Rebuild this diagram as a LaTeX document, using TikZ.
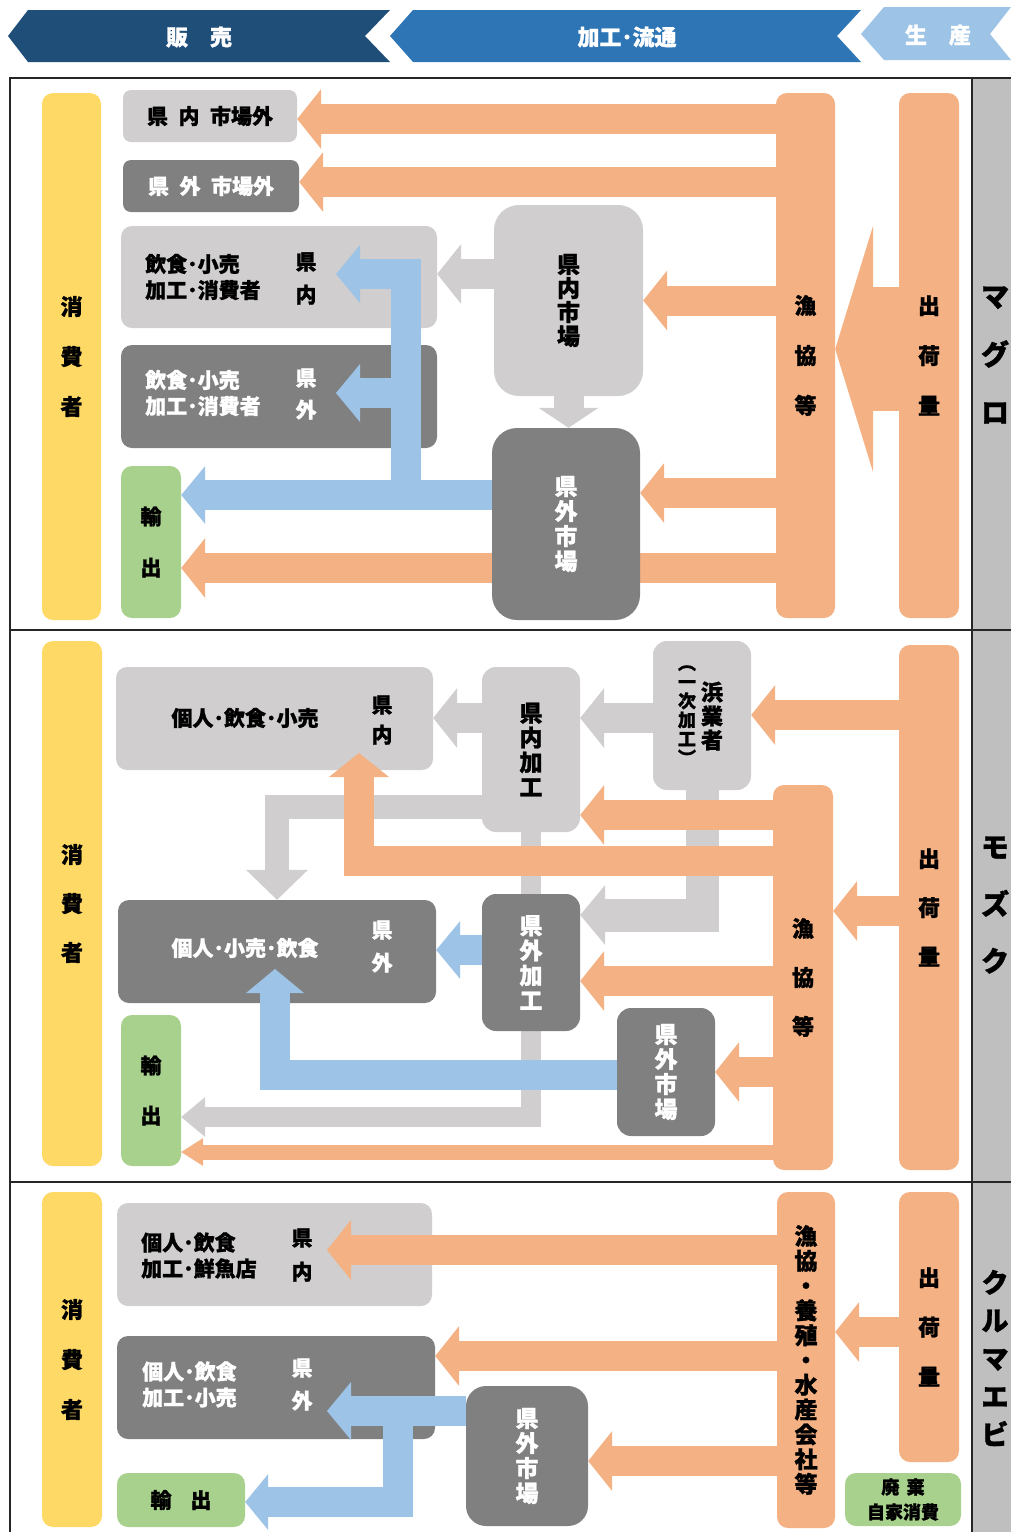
\documentclass[tikz,border=0pt]{standalone}
\usepackage{fontspec}
\setmainfont{Noto Sans CJK JP}[BoldFeatures={FakeBold=1.2}]
\usetikzlibrary{arrows.meta,calc}

\definecolor{navyC}{HTML}{1F4E79}
\definecolor{midC}{HTML}{2E75B6}
\definecolor{skyC}{HTML}{9DC3E6}
\definecolor{orangeC}{HTML}{F4B183}
\definecolor{lgrayC}{HTML}{D0CECE}
\definecolor{dgrayC}{HTML}{808080}
\definecolor{yellowC}{HTML}{FFD966}
\definecolor{greenC}{HTML}{A9D18E}
\definecolor{sideC}{HTML}{BFBFBF}

\pgfdeclarelayer{back}
\pgfsetlayers{back,main}

\begin{document}
\begin{tikzpicture}[x=1pt,y=-1pt]
\tikzset{
	box/.style={inner sep=0pt, rounded corners=11pt, align=center},
	lbox/.style={box, fill=lgrayC},
	dbox/.style={box, fill=dgrayC, text=white},
	ybox/.style={box, fill=yellowC},
	gbox/.style={box, fill=greenC},
	obox/.style={box, fill=orangeC},
	wh/.style 2 args={minimum width=#1pt, minimum height=#2pt},
	vtext/.style 2 args={font=\fontsize{#1}{#2}\selectfont\bfseries, align=center, inner sep=0pt},
	txt/.style={font=\fontsize{21}{26}\selectfont\bfseries, align=left, inner sep=0pt},
	head/.style={font=\fontsize{22}{26}\selectfont\bfseries, text=white, inner sep=0pt},
}

\tikzset{
	fat/.style n args={4}{draw=#1, line width=#2pt,
		-{Triangle[length=#3pt, width=#4pt, line width=0pt]}},
	ora/.style={fat={orangeC}{30}{24}{60}},
	gry/.style={fat={lgrayC}{30}{24}{60}},
	blu/.style={fat={skyC}{30}{24}{58}},
}

\useasboundingbox (0,0) rectangle (1011,1532);

% header
\fill[navyC] (8,36) -- (28,10) -- (390,10) -- (365,36) -- (390,62) -- (28,62) -- cycle;
\fill[midC] (390,36) -- (413,10) -- (861,10) -- (837,36) -- (861,62) -- (413,62) -- cycle;
\fill[skyC] (861,34) -- (884,7) -- (1011,7) -- (990,34) -- (1011,60) -- (884,60) -- cycle;
\node[head] (sale) at (199,37) {販\hspace{1em}売};
\node[head] (dist) at (627,37) {加工･流通};
\node[head] (prod) at (938,35) {生\hspace{1em}産};

% frame
\fill[sideC] (972,78) rectangle (1011,1532);
\draw[line width=1.5pt, black!85] (10,1532) -- (10,78) -- (1011,78);
\draw[line width=1.5pt, black!85] (10,630) -- (1011,630) (10,1182) -- (1011,1182) (972,78) -- (972,1532);

\node[vtext={28}{58}] (tuna) at (995,355) {マ\\グ\\ロ};
\node[vtext={28}{57}] (mozuku) at (995,905) {モ\\ズ\\ク};
\node[vtext={27}{38}] (prawn) at (995,1358) {ク\\ル\\マ\\エ\\ビ};

%%% maguro
\node[ybox, wh={59}{527}, vtext={22}{50}] (cons1) at (71.5,356.5) {消\\費\\者};
\node[lbox, wh={174}{52}, rounded corners=8pt, txt] (outin1) at (210,116) {県\hspace{.5em}内\hspace{.5em}市場外};
\node[dbox, wh={176}{52}, rounded corners=8pt, txt] (outout1) at (211,186) {県\hspace{.5em}外\hspace{.5em}市場外};
\node[lbox, wh={316}{102}] (inbox1) at (279,277) {};
\node[dbox, wh={316}{103}] (exbox1) at (279,396.5) {};
\node[gbox, wh={60}{152}, vtext={21}{51}] (exp1) at (151,542) {輸\\出};
\node[lbox, wh={149}{191}, rounded corners=25pt, vtext={23}{24}] (mktin1) at (568.5,300.5) {県\\内\\市\\場};
\node[obox, wh={59}{525}, vtext={22}{50}] (coop1) at (805.5,355.5) {漁\\協\\等};
\node[obox, wh={60}{525}, vtext={22}{50}] (ship1) at (929,355.5) {出\\荷\\量};
\node[dbox, wh={148}{192}, rounded corners=25pt, vtext={23}{25}] (mktout1) at (566,524) {県\\外\\市\\場};

\node[txt, anchor=west] (inlab1) at (145,277) {飲食･小売\\加工･消費者};
\node[vtext={21}{33}] (inpref1) at (306,278.5) {県\\内};
\node[txt, anchor=west, text=white] (exlab1) at (145,393) {飲食･小売\\加工･消費者};
\node[vtext={21}{32}, text=white] (expref1) at (306,394) {県\\外};

% links
\begin{pgfonlayer}{back}
\draw[ora] (coop1.west |- 0,568) -- (exp1.east |- 0,568);
\end{pgfonlayer}
\draw[ora] (coop1.west |- 0,119) -- (outin1.east |- 0,119);
\draw[ora] (coop1.west |- 0,182) -- (outout1.east |- 0,182);
\draw[ora] (coop1.west |- mktin1.east) -- (mktin1.east);
\draw[ora] (coop1.west |- 0,493) -- (mktout1.east |- 0,493);
\draw[fat={orangeC}{124}{38}{247}] (ship1.west |- 0,349) -- (coop1.east |- 0,349);
\draw[gry] (mktin1.west |- 0,274) -- (inbox1.east |- 0,274);
\draw[fat={lgrayC}{30}{20}{60}] (mktin1.south) -- (mktin1.south |- mktout1.north);

\coordinate (split1) at (406,495);
\coordinate (tipin1) at (336,274);
\coordinate (tipex1) at (336,393);
\draw[blu] (mktout1.west |- split1) -- (exp1.east |- split1);
\draw[blu] (split1) |- (tipin1);
\draw[blu] (split1 |- tipex1) -- (tipex1);

%%% mozuku
\node[ybox, wh={60}{525}, vtext={22}{49}] (cons2) at (72,903.5) {消\\費\\者};
\node[lbox, wh={317}{103}] (inbox2) at (274.5,718.5) {};
\node[lbox, wh={98}{165}, rounded corners=14pt, vtext={23}{24.7}] (procin2) at (531,749.5) {県\\内\\加\\工};
\node[lbox, wh={98}{149}, rounded corners=14pt] (hama2) at (702,715.5) {};
\node[obox, wh={60}{525}, vtext={22}{49}] (ship2) at (929,907.5) {出\\荷\\量};
\node[obox, wh={60}{385}, vtext={22}{49}] (coop2) at (803,977.5) {漁\\協\\等};
\node[dbox, wh={318}{103}] (exbox2) at (277,951.5) {};
\node[dbox, wh={98}{137}, rounded corners=14pt, vtext={23}{25}] (procout2) at (531,962.5) {県\\外\\加\\工};
\node[dbox, wh={98}{128}, rounded corners=14pt, vtext={23}{25}] (mktout2) at (666,1072) {県\\外\\市\\場};
\node[gbox, wh={60}{151}, vtext={21}{50}] (exp2) at (151,1090.5) {輸\\出};

\node[txt] (inlab2) at (245,718) {個人･飲食･小売};
\node[vtext={21}{30}] (inpref2) at (382,720) {県\\内};
\node[txt, text=white] (exlab2) at (245,948) {個人･小売･飲食};
\node[vtext={21}{33}, text=white] (expref2) at (382,946.5) {県\\外};
\node[vtext={22}{24}] (hamalab2) at (712,716) {浜\\業\\者};
\node[vtext={18}{19}] (hamasub2) at (687,715) {︵\\一\\次\\加\\工\\︶};

% links
\begin{pgfonlayer}{back}
\draw[fat={lgrayC}{20}{24}{40}] (procin2.south) |- (exp2.east |- 0,1117);
\draw[gry] (hama2.west |- 0,718) -- (procin2.east |- 0,718);
\draw[gry] (procin2.west |- 0,718) -- (inbox2.east |- 0,718);
\draw[fat={lgrayC}{33}{25}{60}] (hama2.south) |- (procout2.east |- 0,915);
\draw[fat={lgrayC}{24}{30}{62}] (procin2.west |- 0,807) -| (exbox2.north);
\end{pgfonlayer}
\coordinate (tipin2) at (359,753);
\coordinate (tipex2) at (275,969);
\draw[ora] (ship2.west |- 0,715) -- (hama2.east |- 0,715);
\draw[ora] (ship2.west |- 0,911) -- (coop2.east |- 0,911);
\draw[ora] (coop2.west |- 0,815) -- (procin2.east |- 0,815);
\draw[ora] (coop2.west |- 0,861) -| (tipin2);
\draw[ora] (coop2.west |- 0,981) -- (procout2.east |- 0,981);
\draw[ora] (coop2.west |- mktout2.east) -- (mktout2.east);
\draw[fat={orangeC}{15}{22}{28}] (coop2.west |- 0,1152) -- (exp2.east |- 0,1152);
\draw[blu] (procout2.west |- 0,950) -- (exbox2.east |- 0,950);
\draw[blu] (mktout2.west |- 0,1075) -| (tipex2);

%%% kuruma ebi
\node[ybox, wh={60}{335}, vtext={22}{50}] (cons3) at (72,1359.5) {消\\費\\者};
\node[lbox, wh={315}{103}] (inbox3) at (274.5,1254.5) {};
\node[dbox, wh={318}{103}] (exbox3) at (276,1387.5) {};
\node[gbox, wh={128}{54}, txt] (exp3) at (181,1500) {輸\hspace{.9em}出};
\node[dbox, wh={122}{140}, rounded corners=20pt, vtext={23}{25}] (mktout3) at (527,1456) {県\\外\\市\\場};
\node[obox, wh={58}{336}, vtext={23}{24.8}] (coop3) at (806,1360) {漁\\協\\・\\養\\殖\\・\\水\\産\\会\\社\\等};
\node[obox, wh={60}{270}, vtext={22}{49.5}] (ship3) at (929,1327) {出\\荷\\量};
\node[gbox, wh={116}{53}, vtext={18}{25}] (waste3) at (903,1499.5) {廃\hspace{.4em}棄\\自家消費};

\node[txt, anchor=west] (inlab3) at (141,1255.5) {個人･飲食\\加工･鮮魚店};
\node[vtext={21}{34}] (inpref3) at (302,1255) {県\\内};
\node[txt, anchor=west, text=white] (exlab3) at (142,1384.5) {個人･飲食\\加工･小売};
\node[vtext={21}{33}, text=white] (expref3) at (302,1384.5) {県\\外};

% links
\coordinate (tipin3) at (327,1250);
\coordinate (tipex3) at (327,1411);
\coordinate (split3) at (397.5,1411);
\draw[ora] (ship3.west |- 0,1332) -- (coop3.east |- 0,1332);
\draw[ora] (coop3.west |- 0,1250) -- (tipin3);
\draw[ora] (coop3.west |- 0,1356) -- (exbox3.east |- 0,1356);
\draw[ora] (coop3.west |- 0,1461) -- (mktout3.east |- 0,1461);
\draw[blu] (mktout3.west |- tipex3) -- (tipex3);
\draw[fat={skyC}{30}{23}{56}] (split3) |- (exp3.east |- 0,1502);

\end{tikzpicture}
\end{document}
